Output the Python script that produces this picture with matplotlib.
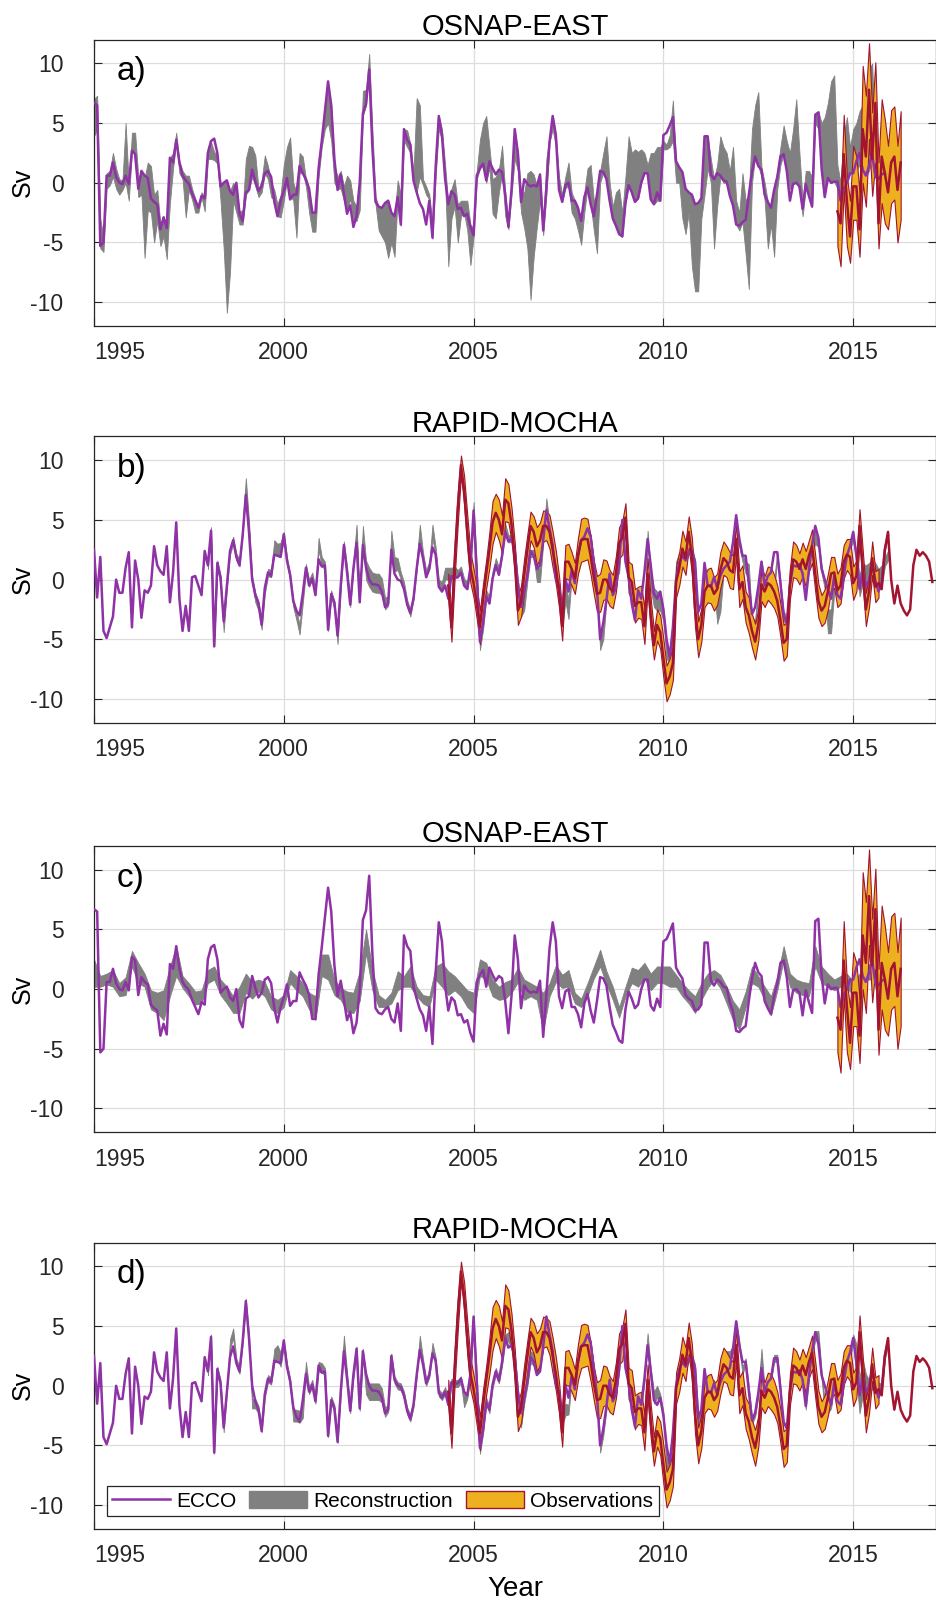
import matplotlib.pyplot as plt
from matplotlib.lines import Line2D
from matplotlib.patches import Patch
import numpy as np

plt.rcParams['font.family'] = ['Liberation Sans', 'DejaVu Sans']
plt.rcParams['axes.unicode_minus'] = False

# ECCO transport anomalies (Sv), monthly from Jan 1995
ecco_east = [
    6.7, 6.5, -5.3, -5.0, 0.6, 0.6, 1.7, 0.5, 0.0, -0.1,
    0.6, -0.1, 2.7, 2.4, -0.5, 1.0, 0.6, 0.4, -1.3, -1.6,
    -1.8, -3.9, -2.9, -3.8, 2.1, 1.7, 3.6, 1.7, 0.6, 0.2,
    -0.1, -0.9, -1.5, -2.1, -1.1, -1.3, 2.5, 3.5, 3.7, 2.5,
    -0.3, 0.0, 0.2, -0.7, -1.0, 0.0, -2.6, -3.2, -0.8, -0.6,
    1.1, 0.1, -0.7, -0.3, 0.8, 1.0, 0.5, -1.6, -2.8, -1.5,
    -0.7, 0.4, -1.4, -1.0, -1.0, 1.4, 0.8, 0.3, -0.5, -2.5,
    -2.5, 1.2, 3.5, 6.0, 8.5, 6.5, 2.0, -0.6, 0.7, -0.9,
    -2.6, -1.9, -3.7, -2.8, 0.0, 5.8, 6.6, 9.5, 3.0, -1.6,
    -2.0, -2.1, -1.7, -1.5, -2.5, -2.8, -1.2, -3.5, 4.5, 3.6,
    3.2, 0.2, -0.8, -1.7, -2.2, -3.5, -1.5, -4.6, 1.3, 5.6,
    4.0, 0.3, -1.8, -0.7, -1.0, -2.2, -2.1, -2.8, -2.6, -3.7,
    -4.4, 0.6, 1.2, 1.6, 0.2, 1.8, 1.2, 0.7, 1.1, 0.9,
    -1.0, -3.7, -0.5, 4.5, 2.5, -1.6, 0.3, -0.1, -0.3, -0.2,
    -0.3, 0.7, -4.0, -0.5, 3.4, 5.6, 4.0, -0.6, -1.6, -0.2,
    0.0, -1.5, -1.5, -2.1, -3.2, -1.2, -0.4, -1.8, -2.8, -1.0,
    1.0, 0.9, 0.3, -1.5, -3.0, -3.6, -4.3, -4.5, -1.7, -0.2,
    -0.8, -1.6, -1.3, 0.0, 0.8, 0.8, -1.4, -1.8, -0.8, -1.5,
    4.0, 4.2, 4.8, 5.5, 1.8, 1.3, 0.9, -0.5, -0.8, -1.0,
    -1.8, -1.7, -1.3, 3.9, 3.9, 0.7, 0.3, 0.8, 0.6, 0.2,
    0.1, -1.1, -1.9, -3.5, -3.6, -3.3, -3.1, -1.0, 0.9, 2.2,
    1.4, 1.1, -1.0, -1.6, -2.1, -0.6, 0.5, 2.2, 2.4, 1.0,
    -1.5, -0.1, 0.0, -0.3, -2.2, -0.1, -1.1, -2.0, 5.7, 5.9,
    1.2, -1.2, 0.4, 0.0, 0.1, 0.1, -1.5, -0.5, 0.0, 0.8,
    0.8, 1.8, 2.5, 1.1, 0.6, 1.4, 2.4, 0.5, 0.3, 0.7, 0.8]

ecco_rapid = [
    2.5, -1.5, 1.9, -4.3, -4.9, -4.0, -3.1, 0.0, -1.1, -1.1,
    1.0, 2.3, -4.0, 1.6, 0.0, -3.2, -0.9, -1.1, -0.5, 2.8,
    1.2, 0.7, 0.4, 2.8, -1.9, 0.6, 4.8, -1.6, -4.3, -2.2,
    -4.3, 0.2, 0.3, -0.5, -1.3, 2.4, 1.2, 4.1, -5.6, 1.4,
    0.2, -3.5, -0.5, 2.4, 3.3, 1.9, 1.2, 3.7, 7.1, 4.0,
    0.0, -1.3, -2.0, -3.8, -0.7, 0.6, 0.3, 2.1, 2.0, 1.9,
    3.8, 1.6, 0.4, -1.8, -2.6, -3.0, -1.2, 1.0, -0.5, 0.1,
    -1.3, 1.7, 1.1, 1.2, -4.2, -1.2, -1.9, -4.7, -0.5, 2.9,
    0.6, -2.1, 0.9, 3.1, -1.9, 2.9, 1.0, 0.0, -0.4, -0.4,
    -0.5, -1.0, -2.3, -2.0, 2.5, 0.5, 0.0, -0.1, -0.8, -2.1,
    -2.8, -1.6, 0.9, 3.0, 1.8, 0.2, 0.9, 2.7, 2.1, -0.6,
    -1.0, -0.5, -1.6, 0.3, 0.2, 0.2, 0.6, -0.5, -0.8, 1.0,
    5.8, 0.5, -5.2, -3.7, -1.4, -2.0, 0.1, 1.2, 0.4, 2.0,
    4.0, 3.2, 3.4, 2.4, -0.5, -2.3, -1.0, 0.3, 2.4, 2.0,
    0.9, 1.2, 3.3, 5.8, 4.3, 2.9, 0.1, -0.5, -3.0, 0.1,
    -1.0, 0.8, -0.3, 2.0, 3.3, 3.6, 4.3, 3.6, 1.4, -0.8,
    -5.0, -3.6, -1.7, 0.5, -1.3, -0.7, 1.4, 5.0, 1.5, 0.2,
    -2.0, -3.4, -0.9, -1.6, 0.6, 3.4, 1.2, -1.2, -1.6, -1.0,
    -2.5, -5.0, -6.5, -4.0, 0.0, 1.4, 2.0, 1.6, 2.3, 2.4,
    1.5, -2.7, -2.0, 1.4, -0.5, -0.6, 0.2, -0.7, 0.3, 0.9,
    1.2, 1.5, 3.1, 5.4, 3.4, 2.0, 2.0, -0.4, -2.9, -2.3,
    -0.6, 1.5, -0.5, 0.3, 0.6, 2.3, 2.3, -0.3, -3.0, -3.6,
    -0.5, 1.2, 1.1, 1.3, 0.5, -1.7, 0.8, 2.9, 4.5, 3.5,
    0.9, 0.0, -0.8, -1.6, 0.3, -1.3, -1.6, 0.3, 2.0, 2.8,
    4.0, 2.0, -0.8, 0.7, -0.5, -0.1, 1.4, -0.1, -1.0, -0.2, 2.5, 3.7]

# reconstruction a) OSNAP-EAST, monthly from Jan 1995: lower / upper edge
rec_a_lo = [
    3.9, 4.5, -5.5, -5.8, -0.5, -0.2, 0.5, -0.5, -1.0, -0.6,
    0.0, -1.5, 2.7, 2.5, -1.2, -1.0, -6.3, -2.3, -2.5, -5.0,
    -3.2, -5.3, -4.5, -6.4, -1.7, 1.2, 3.4, 0.8, 0.3, -2.9,
    -0.6, -1.4, -2.5, -2.5, -1.2, -2.4, 2.0, 2.0, 1.9, 1.6,
    -1.5, -5.5, -10.9, -7.5, -1.5, -2.5, -3.5, -3.5, -1.0, -0.6,
    0.5, -0.3, -1.2, -0.8, 0.8, 0.3, -1.2, -1.4, -2.8, -2.9,
    -1.5, 0.2, -1.0, -1.5, -4.6, 0.8, 0.8, -0.3, -2.5, -4.1,
    -4.1, 0.5, 3.0, 4.5, 5.0, 3.5, 0.0, -0.5, -0.5, -1.5,
    -2.5, -1.3, -3.2, -3.2, -2.3, 5.6, 6.5, 9.5, 2.5, -1.8,
    -4.0, -4.5, -5.0, -6.3, -5.0, -6.2, -1.2, -3.6, 3.5, 3.0,
    2.5, 0.0, -0.8, 0.5, -0.2, -1.0, -1.4, -4.7, 0.5, 4.5,
    3.5, 0.0, -7.0, -3.0, -2.0, -5.0, -2.8, -2.5, -4.0, -6.9,
    -4.5, 0.3, 1.2, 1.5, 0.0, 1.3, -2.6, -3.0, -0.8, 0.8,
    -2.8, -3.9, -1.0, 2.0, 1.0, -2.5, -3.8, -5.5, -9.8, -6.2,
    -3.7, -1.5, -4.4, -1.0, 3.4, 4.5, 3.0, -0.8, -1.6, -0.5,
    -0.2, -2.5, -3.0, -4.0, -5.2, -2.5, -0.4, -1.8, -4.0, -5.9,
    0.0, 0.9, 0.3, -1.5, -3.0, -3.6, -4.3, -4.5, -1.7, -0.2,
    -0.8, -1.6, -1.3, 0.0, 0.8, 0.8, -1.5, -1.8, -1.5, -1.5,
    2.8, 2.8, 3.0, 3.5, 0.0, 0.0, -3.0, -4.3, -2.5, -7.0,
    -9.1, -9.1, -3.0, -1.0, 1.2, 0.0, -5.5, -2.0, 0.5, 0.0,
    0.0, -1.1, -1.9, -3.5, -4.0, -3.3, -6.0, -8.9, 0.0, 2.2,
    1.4, 0.5, -1.5, -5.5, -3.5, -6.2, -0.5, 1.5, 2.4, 1.0,
    -0.5, -0.1, 0.0, -0.5, -2.8, -0.5, -1.1, -2.0, 5.0, 4.5,
    1.2, -0.5, 0.4, 0.0, 0.1, -0.5, -1.0, -0.5, 0.0, 0.8,
    0.8, 1.0, 1.5, 0.5, 0.5, 1.0, 2.0, 0.5, 0.3, 0.5, 0.8]
rec_a_hi = [
    7.0, 7.3, -3.0, -4.6, 0.8, 1.0, 2.5, 1.2, 0.3, 0.2,
    5.0, -0.2, 4.2, 4.2, 0.5, 0.8, 0.4, 1.7, 1.4, -1.0,
    -0.6, -3.5, -2.8, -3.8, 2.1, 2.5, 4.2, 1.8, 1.0, 0.6,
    0.6, -0.5, -1.3, -2.0, -0.8, -1.2, 3.0, 3.4, 2.6, 2.3,
    0.0, 0.0, 0.2, -0.7, 0.0, -0.5, -2.4, -2.3, 2.0, 3.1,
    3.0, 2.3, -0.5, 0.2, 2.3, 1.4, 0.0, -0.6, -1.8, -1.0,
    1.5, 3.0, 3.8, 0.0, -0.8, 2.5, 2.2, 0.3, -0.6, -2.5,
    -2.5, 2.0, 3.8, 6.5, 7.8, 6.5, 1.5, 0.5, 1.0, -0.3,
    0.6, 0.2, -1.5, -2.0, 0.5, 7.7, 7.8, 10.8, 4.5, -1.2,
    -2.0, -2.1, -1.7, -1.5, -2.5, -2.8, 0.2, -1.0, 4.5, 4.4,
    3.3, 0.9, 7.1, 6.5, 0.3, -0.3, -1.0, -3.4, 2.0, 5.6,
    4.5, 1.5, -1.8, -0.5, 0.3, -1.8, -1.5, -1.5, -1.5, -3.5,
    -3.8, 1.0, 3.6, 5.0, 5.6, 3.0, 0.3, 0.5, 1.1, 3.1,
    -0.8, -3.6, 0.0, 4.5, 2.5, -0.8, -0.8, 0.8, 1.0, 0.7,
    -0.3, 0.7, -3.5, 2.0, 4.0, 5.6, 4.0, 0.5, -1.0, 0.5,
    1.7, -0.8, -1.5, -2.1, -3.2, -0.8, 1.2, 1.5, -1.5, -1.0,
    1.0, 2.5, 3.9, 0.0, -2.0, -0.8, -0.5, -2.5, 0.5, 3.9,
    2.5, 2.8, 2.6, 2.8, 2.5, 1.5, 2.5, 2.5, 3.0, 3.0,
    3.5, 3.2, 4.0, 6.9, 1.8, 1.3, 0.5, -0.5, -0.8, -1.0,
    -1.8, -1.7, -1.3, 3.9, 3.9, 2.0, 0.3, 1.5, 3.9, 3.0,
    2.5, 1.0, 3.0, -1.5, -2.5, 0.8, -1.5, -1.0, 4.5, 6.5,
    7.6, 1.3, 0.0, -1.6, -2.1, -0.6, 1.0, 3.0, 4.8, 3.5,
    2.5, 4.5, 7.0, 2.5, -1.5, 1.0, 1.0, 0.5, 5.8, 6.0,
    5.0, 5.5, 6.7, 8.5, 9.0, 1.5, 0.0, 4.0, 5.5, 3.0,
    4.5, 5.0, 6.0, 6.5, 7.5, 9.5, 10.0, 3.0, 1.5, 1.0, 1.0]

# reconstruction c) OSNAP-EAST, every second month from Jan 1995
rec_c_lo = [
    0.2, 0.2, 0.4, 0.2, -0.6, -0.5, 1.9, 0.5, 0.2, -1.7,
    -2.0, -2.6, -0.6, 1.1, 0.1, -0.6, -1.3, -1.2, 0.5, 0.8,
    -0.5, -1.2, -2.0, -2.0, -0.3, -0.8, -0.2, -0.6, -1.7, -2.0,
    -1.5, 0.5, -0.1, -0.6, -1.7, -2.6, 1.1, 0.8, -0.5, -0.9,
    -1.9, -2.0, -1.0, 3.0, -0.1, -1.5, -1.5, -1.2, -0.1, 0.2,
    0.2, -0.6, -1.2, -1.5, 0.8, 0.2, -0.5, -0.1, -0.6, -1.5,
    -2.0, 1.1, 0.8, -0.6, -0.9, -0.8, -0.3, 0.6, -0.9, -0.6,
    -0.9, -3.5, -0.6, 0.6, 0.1, 0.2, -1.2, -1.5, -0.6, 0.9,
    1.9, 0.4, -0.9, -2.4, -0.6, 0.5, 0.2, 0.9, -0.1, 0.5,
    0.5, 0.2, 0.2, -0.6, -1.2, -2.0, -0.9, 0.1, 0.8, 0.1,
    -1.2, -2.6, -3.4, -1.5, 0.5, 0.2, -0.9, -2.2, -0.1, 2.5,
    0.2, -0.3, -0.5, -0.6, 1.9, 0.5, 0.2, -0.1, 0.2, 0.1,
    -0.5, 0.2, 0.8, 0.8, -0.6, -0.9]
rec_c_hi = [
    2.5, 1.1, 1.3, 1.6, 0.5, 1.0, 3.2, 2.2, 1.3, -0.1,
    -0.3, -0.1, 1.9, 3.6, 1.1, 0.5, -0.2, -0.1, 1.6, 1.9,
    0.8, 0.2, -0.6, 0.2, 1.3, 0.6, 0.8, 0.6, -0.6, -0.9,
    -0.5, 1.6, 1.1, 0.5, -0.3, -0.6, 2.9, 2.9, 0.8, 0.1,
    -0.2, -0.3, 1.5, 5.0, 1.6, -0.5, -0.9, -0.3, 1.5, 1.1,
    1.9, 0.2, -0.5, -0.6, 1.9, 2.2, 1.5, 1.1, 0.5, -0.1,
    -0.3, 2.5, 2.2, 0.8, 0.2, 0.6, 0.8, 1.8, 0.8, 0.5,
    0.2, -0.3, 0.5, 2.0, 1.2, 1.6, -0.3, -0.8, 0.5, 1.9,
    3.3, 1.5, 0.2, -1.5, 0.2, 1.8, 1.6, 2.2, 1.3, 1.9,
    1.9, 1.9, 1.2, 0.5, -0.1, -0.6, 0.5, 1.3, 1.6, 1.2,
    0.2, -1.0, -1.7, -0.2, 1.9, 1.1, 0.2, -0.6, 1.1, 3.6,
    1.3, 0.8, 0.6, 0.5, 3.6, 1.9, 1.3, 0.8, 1.1, 1.3,
    0.6, 1.3, 2.0, 2.2, 0.8, 0.2]

# reconstruction b) and d) RAPID-MOCHA, monthly from Jan 1998: centre and half width
rec_b = [
    1.2, 4.1, -5.3, 1.2, 0.0, -4.0, -0.5, 2.4, 3.3, 1.9,
    1.4, 4.2, 8.0, 4.5, 0.0, -1.5, -2.2, -3.8, -0.9, 0.6,
    0.5, 2.8, 2.5, 2.6, 3.6, 1.6, 0.2, -2.0, -3.0, -4.2,
    -1.6, 1.0, -0.3, 0.3, -1.0, 3.0, 1.5, 1.2, -4.0, -1.2,
    -2.2, -5.0, -0.5, 2.9, 0.8, -2.0, 1.2, 4.2, -1.6, 4.0,
    0.8, 0.2, -0.2, -0.3, -0.3, -0.6, -2.0, -1.8, 3.5, 1.3,
    1.3, 0.3, -0.5, -2.0, -2.8, -1.4, 1.2, 4.0, 2.0, 0.5,
    1.2, 4.0, 2.4, -0.3, -0.6, 0.5, 0.5, 0.5, 0.6, 0.5,
    0.8, -0.2, -0.5, 1.3, 6.0, 0.8, -5.5, -3.8, -1.2, -1.7,
    0.4, 1.5, 0.7, 2.3, 4.3, 3.4, 3.5, 2.6, -0.3, -2.3,
    -1.8, 0.2, 2.2, 2.2, 0.4, 0.4, 3.3, 6.2, 4.5, 3.0,
    0.0, -0.8, -3.5, -1.0, -2.5, 0.6, 1.2, 1.5, 3.0, 3.5,
    4.2, 3.5, 1.2, -0.8, -5.4, -4.5, -1.5, 0.3, -1.5, 1.0,
    1.0, 4.6, 1.6, 0.3, -2.0, -3.2, -1.0, -1.8, -3.5, 3.7,
    0.0, -1.5, -1.8, -1.8, -3.0, -6.0, -6.5, -4.2, 1.0, 1.8,
    2.0, 1.8, 2.5, 2.5, 1.3, -4.0, -3.5, 1.0, -0.3, -0.5,
    0.0, -2.5, -1.5, 0.8, 1.0, 1.4, 3.5, 3.8, 3.0, 1.8,
    1.0, 0.8, -4.0, -3.8, -0.8, 1.3, -0.3, -0.8, -1.2, -0.5,
    2.0, -0.5, -3.0, -3.6, 0.5, 0.8, 1.0, 1.2, 0.5, 1.4,
    1.0, 2.8, 3.5, 3.0, 0.9, -0.5, -3.5, -3.5, 0.0, -1.2,
    -1.4, 0.5, 3.0, 3.0, 3.5, 2.0, -0.5, 0.5, 0.3, 0.5,
    0.8, 0.5, 0.0, 0.3, 1.5, 2.0]
rec_b_w = [
    0.3, 0.3, 0.3, 0.4, 0.3, 0.4, 0.3, 0.3, 0.3, 0.3,
    0.3, 0.4, 0.5, 0.4, 0.3, 0.4, 0.4, 0.4, 0.3, 0.3,
    0.3, 0.5, 0.5, 0.5, 0.4, 0.3, 0.3, 0.3, 0.4, 0.4,
    0.4, 0.3, 0.3, 0.3, 0.3, 0.5, 0.4, 0.3, 0.3, 0.3,
    0.3, 0.4, 0.3, 0.3, 0.3, 0.3, 0.3, 0.4, 0.3, 0.5,
    0.8, 0.8, 0.8, 0.8, 0.8, 0.7, 0.5, 0.4, 0.6, 0.6,
    0.5, 0.3, 0.3, 0.3, 0.3, 0.3, 0.4, 0.6, 0.3, 0.3,
    0.3, 0.6, 0.3, 0.3, 0.4, 0.5, 0.5, 0.5, 0.5, 0.3,
    0.3, 0.3, 0.3, 0.3, 0.5, 0.3, 0.4, 0.4, 0.3, 0.3,
    0.3, 0.3, 0.3, 0.3, 0.4, 0.3, 0.3, 0.3, 0.3, 0.8,
    0.8, 0.3, 0.3, 0.3, 0.6, 0.6, 0.3, 0.6, 0.3, 0.3,
    0.3, 0.3, 0.8, 0.8, 0.8, 0.3, 0.4, 0.4, 0.3, 0.3,
    0.3, 0.3, 0.3, 0.3, 0.5, 0.5, 0.3, 0.3, 0.3, 0.5,
    0.5, 0.4, 0.3, 0.3, 0.3, 0.3, 0.3, 0.3, 0.5, 0.4,
    0.8, 0.8, 0.8, 0.8, 0.5, 0.6, 0.6, 0.4, 0.5, 0.5,
    0.5, 0.4, 0.4, 0.4, 0.3, 0.5, 0.5, 0.3, 0.3, 0.3,
    0.3, 1.2, 1.2, 0.3, 0.3, 0.3, 0.4, 0.4, 0.3, 0.3,
    0.5, 0.5, 0.5, 0.5, 0.3, 0.3, 0.3, 0.5, 0.5, 0.5,
    0.3, 0.3, 0.4, 0.4, 0.5, 0.5, 0.5, 0.3, 0.3, 0.3,
    0.3, 0.5, 0.5, 0.3, 0.3, 0.3, 1.0, 1.0, 1.0, 0.3,
    0.3, 0.3, 0.4, 0.4, 0.3, 0.3, 0.9, 0.9, 0.9, 0.9,
    0.9, 0.9, 0.9, 0.9, 0.4, 0.4]

rec_d = [
    1.2, 4.0, -5.4, 1.3, 0.2, -3.6, -0.3, 3.5, 4.4, 2.0,
    1.3, 3.8, 7.0, 4.0, -1.5, -1.5, -2.0, -3.6, -0.7, 0.6,
    0.4, 2.5, 2.8, 2.2, 3.6, 1.6, 0.3, -2.5, -2.5, -2.6,
    -2.2, 1.7, -0.4, 0.2, -1.2, 1.6, 1.5, 1.2, -4.0, -1.2,
    -1.9, -4.5, -0.5, 3.8, 0.8, -2.0, 0.9, 3.0, -1.8, 2.8,
    0.0, -0.5, -0.5, -0.5, -0.5, -0.8, -2.2, -1.9, 2.4, 0.5,
    0.0, -0.1, -0.8, -2.1, -2.7, -1.5, 1.0, 3.8, 2.0, 0.3,
    1.0, 3.2, 2.1, -0.6, -0.9, -0.4, -1.5, 0.3, 0.2, 0.2,
    0.5, -1.3, -0.8, 1.0, 5.6, 0.5, -5.4, -3.7, -1.3, -2.0,
    0.1, 1.2, 0.5, 2.0, 4.0, 4.1, 3.4, 2.4, -0.5, -3.0,
    -1.2, 0.3, 2.4, 2.2, 1.5, 2.0, 3.3, 5.6, 4.2, 2.8,
    0.1, -0.6, -3.0, -2.0, -2.0, 0.8, -0.3, 2.0, 3.2, 3.6,
    4.2, 3.5, 1.4, -0.8, -5.2, -3.8, -1.7, 0.5, -1.3, -0.7,
    1.4, 4.8, 1.5, 0.2, -2.0, -3.4, -0.9, -1.6, 0.6, 3.9,
    1.2, -1.0, -0.5, -1.0, -2.5, -6.5, -6.5, -4.0, 0.0, 1.4,
    2.0, 1.6, 2.3, 2.4, 1.5, -2.7, -2.8, 1.0, -0.5, -0.6,
    0.2, -0.7, 0.3, 2.4, 2.4, 2.4, 3.1, 5.2, 3.4, 1.3,
    2.0, -0.4, -2.9, -2.3, -0.6, 2.7, -0.5, 0.3, 0.6, 2.3,
    2.3, -0.3, -5.0, -5.0, -0.5, 1.2, 1.5, 1.5, 1.5, -1.7,
    0.8, 2.9, 4.2, 4.2, 0.9, -1.8, -1.8, -1.6, 0.3, -1.3,
    -1.6, 0.3, 2.0, 2.5, 4.0, 2.0, -0.8, 0.7, -0.5, 0.0,
    0.0, 0.0, 0.0, -0.2, 2.5, 3.7]
rec_d_w = [
    0.3, 0.3, 0.3, 0.3, 0.3, 0.3, 0.3, 0.4, 0.4, 0.3,
    0.3, 0.3, 0.3, 0.3, 0.4, 0.4, 0.3, 0.3, 0.3, 0.3,
    0.3, 0.6, 0.6, 0.6, 0.3, 0.3, 0.3, 0.5, 0.5, 0.5,
    0.5, 0.3, 0.3, 0.3, 0.3, 0.4, 0.4, 0.3, 0.3, 0.3,
    0.3, 0.3, 0.3, 0.4, 0.3, 0.3, 0.3, 0.3, 0.3, 0.3,
    0.7, 0.7, 0.7, 0.7, 0.7, 0.6, 0.4, 0.3, 0.3, 0.3,
    0.3, 0.3, 0.3, 0.3, 0.3, 0.3, 0.3, 0.4, 0.3, 0.3,
    0.3, 0.4, 0.3, 0.3, 0.3, 0.3, 0.3, 0.3, 0.3, 0.3,
    0.3, 0.5, 0.3, 0.3, 0.3, 0.3, 0.3, 0.3, 0.3, 0.3,
    0.3, 0.3, 0.3, 0.3, 0.3, 0.4, 0.3, 0.3, 0.3, 0.5,
    0.3, 0.3, 0.5, 0.5, 0.5, 0.5, 0.3, 0.3, 0.3, 0.3,
    0.3, 0.3, 0.3, 0.5, 0.4, 0.3, 0.3, 0.3, 0.3, 0.3,
    0.3, 0.3, 0.3, 0.3, 0.4, 0.4, 0.3, 0.3, 0.3, 0.3,
    0.3, 0.3, 0.3, 0.3, 0.3, 0.3, 0.3, 0.3, 0.3, 0.5,
    0.3, 0.5, 0.5, 0.3, 0.3, 0.5, 0.5, 0.4, 0.3, 0.3,
    0.3, 0.3, 0.3, 0.3, 0.3, 0.3, 0.6, 0.3, 0.3, 0.3,
    0.3, 0.3, 0.3, 0.5, 0.5, 0.5, 0.3, 0.3, 0.3, 0.3,
    0.3, 0.3, 0.3, 0.3, 0.3, 0.4, 0.3, 0.3, 0.3, 0.3,
    0.3, 0.3, 0.6, 0.6, 0.3, 0.5, 0.5, 0.5, 0.3, 0.3,
    0.3, 0.3, 0.4, 0.4, 0.3, 0.5, 0.5, 0.3, 0.3, 0.3,
    0.3, 0.3, 0.3, 0.4, 0.3, 1.5, 1.5, 1.5, 1.5, 0.5,
    0.3, 0.3, 0.3, 0.3, 0.3, 0.3]

# OSNAP-EAST observations, monthly from Aug 2014
obs_east = [-2.4, -3.4, 2.4, -1.5, -4.5, -0.3, -0.3, -3.9, 4.5, 2.2, 7.8,
            2.0, 6.7, -3.4, 2.2, 0.8, -0.8, 1.7, 2.2, -0.6, 1.7]
obs_east_lo = [-5.3, -7.0, -0.5, -5.3, -6.7, -3.1, -3.1, -6.2, 0.0, -2.0, 3.7,
               -1.1, 1.7, -5.5, -1.7, -3.4, -3.9, -1.7, -1.4, -5.0, -3.1]
obs_east_hi = [-0.3, -1.5, 5.7, 0.5, -1.5, 3.1, 2.2, -0.8, 9.8, 7.3, 11.7,
               5.9, 10.1, 1.7, 7.0, 5.3, 3.1, 6.1, 6.4, 3.1, 6.0]

# RAPID-MOCHA observations, monthly from Apr 2004, and uncertainty half width
obs_rapid = [
    -0.5, -4.0, 1.5, 6.0, 9.6, 7.5, 4.0, 1.0, -0.3, -2.0,
    -4.0, -1.6, 0.5, 2.5, 4.8, 5.6, 5.0, 3.8, 6.7, 6.4,
    4.6, 1.8, -2.6, -1.8, 0.4, 2.5, 4.5, 4.0, 2.8, 3.3,
    4.5, 4.5, 4.0, 2.5, 1.0, -1.0, -3.9, 1.5, 1.5, 0.9,
    0.1, 2.0, 3.3, 3.4, 3.4, 2.0, 0.2, -1.2, -1.1, 0.0,
    0.0, -0.7, -1.0, 0.5, 3.1, 3.5, 5.2, 0.2, -0.2, -2.2,
    -1.9, -1.9, -3.9, 0.5, -3.0, -5.5, -3.8, -4.4, -6.6, -8.7,
    -8.1, -7.0, -0.2, 0.9, 2.6, 1.8, 4.0, 2.0, -2.4, -5.0,
    -3.8, -1.0, -0.5, -0.5, -1.2, -0.8, 0.8, 1.8, 1.5, 0.8,
    0.6, 3.4, -0.8, -0.2, -2.3, -3.0, -4.3, -5.2, -3.8, -0.4,
    -1.0, -0.3, -0.5, -1.0, -1.8, -3.4, -5.3, -5.0, -0.3, 1.7,
    1.5, 0.9, 1.7, 0.9, 2.0, 2.8, 0.5, -1.8, -2.6, -2.2,
    -1.0, 0.5, 0.6, -0.9, -0.5, 1.5, 2.1, 1.9, -0.3, 0.3,
    4.5, 1.0, -2.5, -1.0, 1.8, -0.6, -0.3, -0.8, 2.5, 4.0,
    0.0, -2.0, -0.5, -2.0, -2.6, -3.0, -2.5, 1.2, 2.5, 2.0,
    2.3, 2.0, 1.5, -0.2]
obs_rapid_err = [
    1.0, 1.2, 1.4, 1.3, 0.8, 1.2, 1.4, 1.3, 1.2, 1.3,
    1.4, 1.3, 1.2, 1.5, 1.8, 1.6, 1.7, 1.6, 1.8, 1.6,
    1.4, 1.3, 1.2, 1.3, 1.4, 1.3, 1.2, 1.3, 1.6, 1.5,
    1.3, 1.2, 1.4, 1.5, 1.4, 1.3, 1.2, 1.4, 1.5, 1.4,
    1.3, 1.5, 1.8, 1.8, 1.7, 1.6, 1.4, 1.5, 1.6, 1.7,
    1.6, 1.5, 1.4, 1.5, 1.3, 1.4, 1.2, 1.3, 1.5, 1.4,
    1.3, 1.4, 1.5, 1.3, 1.4, 1.2, 1.3, 1.4, 1.6, 1.5,
    1.5, 1.4, 1.3, 1.4, 1.5, 1.4, 1.3, 1.5, 1.6, 1.5,
    1.4, 1.3, 1.4, 1.5, 1.4, 1.3, 1.5, 1.4, 1.3, 1.5,
    1.4, 1.3, 1.5, 1.4, 1.3, 1.5, 1.4, 1.5, 1.3, 1.4,
    1.3, 1.4, 1.5, 1.4, 1.3, 1.4, 1.5, 1.4, 1.3, 1.5,
    1.4, 1.3, 1.4, 1.5, 1.3, 1.4, 1.5, 1.4, 1.3, 1.4,
    1.5, 1.4, 1.3, 1.4, 1.5, 1.4, 1.3, 1.5, 1.4, 1.3,
    1.4, 1.5, 1.4, 1.3, 1.4, 1.3, 1.2]

titles = ['OSNAP-EAST', 'RAPID-MOCHA', 'OSNAP-EAST', 'RAPID-MOCHA']
letters = ['a)', 'b)', 'c)', 'd)']
year_ticks = [1995, 2000, 2005, 2010, 2015]
sv_ticks = [-10, -5, 0, 5, 10]

PURPLE = '#8E32A6'
GREY = '#808080'
ORANGE = '#EDB120'
RED = '#A2142F'


def months(start, n, step=1):
    # decimal years for monthly samples starting at month index `start` (0 = Jan 1995)
    return 1995 + (start + step * np.arange(n)) / 12


t_ee = months(0, len(ecco_east))
t_er = months(0, len(ecco_rapid))
t_ra = months(0, len(rec_a_lo))
t_rc = months(0, len(rec_c_lo), 2)
t_rb = months(36, len(rec_b))
t_oe = months(235, len(obs_east))
t_or = months(112, len(obs_rapid))
t_ore = months(112, len(obs_rapid_err))

rb = np.array(rec_b)
rd = np.array(rec_d)
orp = np.array(obs_rapid[:len(obs_rapid_err)])
ore = np.array(obs_rapid_err)

panels = [
    dict(ecco=(t_ee, ecco_east), rec=(t_ra, rec_a_lo, rec_a_hi),
         band=(t_oe, obs_east_lo, obs_east_hi), obs=(t_oe, obs_east)),
    dict(ecco=(t_er, ecco_rapid), rec=(t_rb, rb - np.array(rec_b_w), rb + np.array(rec_b_w)),
         band=(t_ore, orp - ore, orp + ore), obs=(t_or, obs_rapid)),
    dict(ecco=(t_ee, ecco_east), rec=(t_rc, rec_c_lo, rec_c_hi),
         band=(t_oe, obs_east_lo, obs_east_hi), obs=(t_oe, obs_east)),
    dict(ecco=(t_er, ecco_rapid), rec=(t_rb, rd - np.array(rec_d_w), rd + np.array(rec_d_w)),
         band=(t_ore, orp - ore, orp + ore), obs=(t_or, obs_rapid)),
]

fig = plt.figure(figsize=(9.37, 16.04), dpi=100)
bottoms = [0.7968, 0.5494, 0.2941, 0.0468]
axes = []
for i, p in enumerate(panels):
    ax = fig.add_axes([0.1003, bottoms[i], 0.8986, 0.1785])
    axes.append(ax)
    ax.fill_between(*p['rec'], facecolor=GREY, edgecolor=GREY, lw=0.6, zorder=2)
    ax.fill_between(*p['band'], facecolor=ORANGE, edgecolor=RED, lw=0.8, zorder=3)
    ax.plot(*p['ecco'], color=PURPLE, lw=1.8, zorder=4)
    ax.plot(*p['obs'], color=RED, lw=1.8, zorder=5)

    ax.set_xlim(1995, 2017.18)
    ax.set_ylim(-12, 12)
    ax.set_xticks(year_ticks)
    ax.set_yticks(sv_ticks)
    ax.grid(True, color='#dddddd', lw=0.9, zorder=0)
    ax.set_axisbelow(True)
    ax.tick_params(direction='in', top=True, right=True, length=6, width=0.8,
                   labelsize=16.5, colors='#262626')
    ax.tick_params(axis='x', pad=11)
    ax.tick_params(axis='y', pad=22)
    for lab in ax.get_xticklabels()[:1]:
        lab.set_horizontalalignment('left')
    for s in ax.spines.values():
        s.set_color('#262626')
        s.set_linewidth(0.9)
    ax.set_title(titles[i], fontsize=21, pad=3)
    ax.set_ylabel('Sv', fontsize=18, va='center')
    ax.yaxis.set_label_coords(-0.085, 0.5)
    ax.text(0.027, 0.887, letters[i], transform=ax.transAxes, fontsize=24,
            va='center', ha='left')

axes[-1].set_xlabel('Year', fontsize=20, va='center')
axes[-1].xaxis.set_label_coords(0.5, -0.21)

handles = [Line2D([], [], color=PURPLE, lw=1.8),
           Patch(facecolor=GREY, edgecolor=GREY),
           Patch(facecolor=ORANGE, edgecolor=RED)]
leg = axes[-1].legend(handles, ['ECCO', 'Reconstruction', 'Observations'],
                      loc='lower left', bbox_to_anchor=(0.015, 0.045), ncol=3,
                      fontsize=15, frameon=True, fancybox=False, framealpha=1,
                      edgecolor='#262626', handlelength=2.8, handleheight=0.9,
                      handletextpad=0.3, columnspacing=0.6, borderpad=0.25,
                      borderaxespad=0)
leg.get_frame().set_linewidth(0.9)
leg.set_zorder(10)

fig.savefig('out.png', dpi=100)
